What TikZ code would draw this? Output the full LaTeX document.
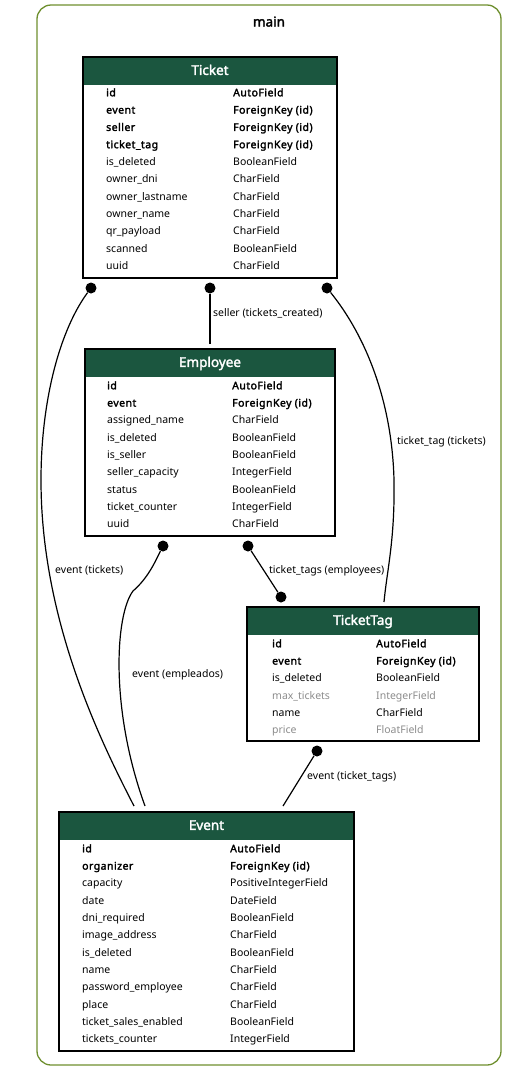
\documentclass[tikz,border=0pt]{standalone}
\usepackage{fontspec}
\setmainfont{Noto Sans}[BoldFont={Noto Sans},BoldFeatures={FakeBold=2.2}]
\newfontfamily\rowboldfont{Noto Sans}[FakeBold=2.2,LetterSpace=4.5]
\usetikzlibrary{calc}
\definecolor{hdr}{HTML}{1B563F}
\definecolor{clus}{HTML}{6E8F2E}
\definecolor{greytxt}{HTML}{8C8C8C}
\newcommand\erdrows[5]{%
  \foreach \fname/\ftype/\fst [count=\i from 0] in {#5} {
    \node[rowtxt,\fst] (#1L\i) at (#2,{#4+17.3*\i+4.3}) {\fname};
    \node[rowtxt,\fst] (#1R\i) at (#3,{#4+17.3*\i+4.3}) {\ftype};
  }}
\begin{document}
\begin{tikzpicture}[x=1pt,y=-1pt,
  frame/.style={draw=black,line width=1.2pt,rectangle,inner sep=0pt},
  hdrtitle/.style={anchor=base,text=white,inner sep=0pt,font=\fontsize{13.5}{15}\selectfont\bfseries},
  rowtxt/.style={anchor=base west,inner sep=0pt,font=\fontsize{10.5}{12}\selectfont},
  rowbold/.style={font=\rowboldfont\fontsize{10.5}{12}\selectfont},
  rownorm/.style={},
  rowgrey/.style={text=greytxt},
  lbl/.style={anchor=base west,inner sep=0pt,font=\fontsize{10.5}{12}\selectfont},
  dotn/.style={circle,fill=black,inner sep=0pt,minimum size=11pt},
  conn/.style={line width=1.2pt}
]
\useasboundingbox (0,0) rectangle (506,1072);
% cluster
\draw[clus,line width=1.3pt,rounded corners=14pt] (37,5) rectangle (501,1065);
\node[anchor=base,inner sep=0pt,font=\fontsize{13.5}{15}\selectfont\bfseries] (mainlbl) at (269,26.5) {main};

% ---------- Ticket
\node[frame,minimum width=254pt,minimum height=221pt] (ticket) at (210,167.5) {};
\fill[hdr] ($(ticket.north west)+(2,2)$) rectangle ($(ticket.north east)+(-2,29)$);
\node[hdrtitle] (ticketT) at ($(ticket.north)+(0,18.5)$) {Ticket};
\erdrows{tk}{106}{233}{92}{id/AutoField/rowbold, event/ForeignKey (id)/rowbold, seller/ForeignKey (id)/rowbold, ticket\_tag/ForeignKey (id)/rowbold, is\_deleted/BooleanField/rownorm, owner\_dni/CharField/rownorm, owner\_lastname/CharField/rownorm, owner\_name/CharField/rownorm, qr\_payload/CharField/rownorm, scanned/BooleanField/rownorm, uuid/CharField/rownorm}

% ---------- Employee
\node[frame,minimum width=250pt,minimum height=187pt] (employee) at (210,442.5) {};
\fill[hdr] ($(employee.north west)+(2,2)$) rectangle ($(employee.north east)+(-2,29)$);
\node[hdrtitle] (employeeT) at ($(employee.north)+(0,18.5)$) {Employee};
\erdrows{em}{107}{232}{385}{id/AutoField/rowbold, event/ForeignKey (id)/rowbold, assigned\_name/CharField/rownorm, is\_deleted/BooleanField/rownorm, is\_seller/BooleanField/rownorm, seller\_capacity/IntegerField/rownorm, status/BooleanField/rownorm, ticket\_counter/IntegerField/rownorm, uuid/CharField/rownorm}

% ---------- TicketTag
\node[frame,minimum width=232pt,minimum height=134pt] (tickettag) at (363,674) {};
\fill[hdr] ($(tickettag.north west)+(2,2)$) rectangle ($(tickettag.north east)+(-2,29)$);
\node[hdrtitle] (tickettagT) at ($(tickettag.north)+(0,18.5)$) {TicketTag};
\erdrows{tt}{272}{376}{643}{id/AutoField/rowbold, event/ForeignKey (id)/rowbold, is\_deleted/BooleanField/rownorm, max\_tickets/IntegerField/rowgrey, name/CharField/rownorm, price/FloatField/rowgrey}

% ---------- Event
\node[frame,minimum width=295pt,minimum height=239pt] (event) at (206.5,931.5) {};
\fill[hdr] ($(event.north west)+(2,2)$) rectangle ($(event.north east)+(-2,29)$);
\node[hdrtitle] (eventT) at ($(event.north)+(0,18.5)$) {Event};
\erdrows{ev}{82}{230}{848}{id/AutoField/rowbold, organizer/ForeignKey (id)/rowbold, capacity/PositiveIntegerField/rownorm, date/DateField/rownorm, dni\_required/BooleanField/rownorm, image\_address/CharField/rownorm, is\_deleted/BooleanField/rownorm, name/CharField/rownorm, password\_employee/CharField/rownorm, place/CharField/rownorm, ticket\_sales\_enabled/BooleanField/rownorm, tickets\_counter/IntegerField/rownorm}

% ---------- dots
\node[dotn] (dTE) at (91,288) {};
\node[dotn] (dTS) at (210,288) {};
\node[dotn] (dTT) at (327,288) {};
\node[dotn] (dEE) at (163,546) {};
\node[dotn] (dET) at (248,546) {};
\node[dotn] (dTTt) at (281,597) {};
\node[dotn] (dTTE) at (317,751) {};

% ---------- end points
\coordinate (eTE) at (134,806);
\coordinate (eEE) at (145,806);
\coordinate (eTTE) at (283,806);
\coordinate (eTS) at (210,344);
\coordinate (eTT) at (384,602);

% ---------- connectors
\draw[conn] (dTE) .. controls (60,330) and (41,400) .. (41,480) .. controls (41,620) and (100,740) .. (eTE);
\draw[conn] (dTS) -- (eTS);
\draw[conn] (dTT) .. controls (365,335) and (392,400) .. (394,480) .. controls (395,540) and (387,570) .. (eTT);
\draw[conn] (dEE) .. controls (155,562) and (148,578) .. (133,591) .. controls (115,615) and (110,710) .. (eEE);
\draw[conn] (dET) -- (dTTt);
\draw[conn] (dTTE) -- (eTTE);

% ---------- labels
\node[lbl] (lTS) at (213,316.5) {seller (tickets\_created)};
\node[lbl] (lTE) at (55,573) {event (tickets)};
\node[lbl] (lEE) at (132,677) {event (empleados)};
\node[lbl] (lET) at (269,573.5) {ticket\_tags (employees)};
\node[lbl] (lTTE) at (307,779) {event (ticket\_tags)};
\node[lbl] (lTT) at (397,444.5) {ticket\_tag (tickets)};
\end{tikzpicture}
\end{document}
